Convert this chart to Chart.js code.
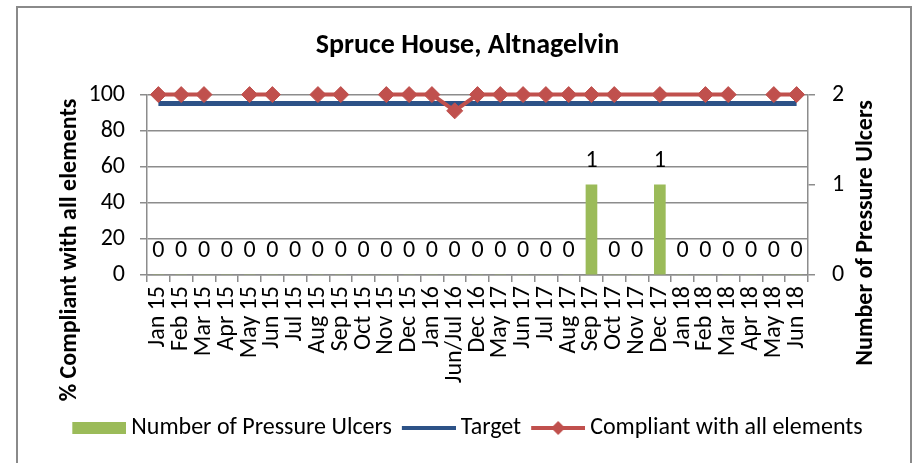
<!DOCTYPE html>
<html>
<head>
<meta charset="utf-8">
<script src="https://cdn.jsdelivr.net/npm/chart.js@4"></script>
<style>
  html, body { margin: 0; padding: 0; background: #fff; }
  #wrap { width: 914px; height: 463px; }
</style>
</head>
<body>
<div id="wrap"><canvas id="chart" width="914" height="463"></canvas></div>
<script>
const months = ['Jan 15', 'Feb 15', 'Mar 15', 'Apr 15', 'May 15', 'Jun 15', 'Jul 15', 'Aug 15',
  'Sep 15', 'Oct 15', 'Nov 15', 'Dec 15', 'Jan 16', 'Jun/Jul 16', 'Dec 16', 'May 17', 'Jun 17',
  'Jul 17', 'Aug 17', 'Sep 17', 'Oct 17', 'Nov 17', 'Dec 17', 'Jan 18', 'Feb 18', 'Mar 18',
  'Apr 18', 'May 18', 'Jun 18'];
const pressureUlcers = [0, 0, 0, 0, 0, 0, 0, 0, 0, 0, 0, 0, 0, 0, 0, 0, 0, 0, 0, 1, 0, 0, 1, 0, 0, 0, 0, 0, 0];
const target = [95, 95, 95, 95, 95, 95, 95, 95, 95, 95, 95, 95, 95, 95, 95, 95, 95, 95, 95, 95, 95, 95, 95, 95, 95, 95, 95, 95, 95];
const compliant = [100, 100, 100, null, 100, 100, null, 100, 100, null, 100, 100, 100, 91, 100,
  100, 100, 100, 100, 100, 100, 100, 100, 100, 100, 100, null, 100, 100];
const noMarker = [21, 23]; // line passes through these months without a diamond

const FONT = 'Carlito, Calibri, Lato, sans-serif';
const GREEN = '#9BBB59', BLUE = '#2D5287', RED = '#C0504D', GRID = '#8c8c8c';

// little legend swatches
function swatch(kind) {
  const c = document.createElement('canvas');
  c.width = 61; c.height = 16;
  const g = c.getContext('2d');
  if (kind === 'bar') {
    g.fillStyle = GREEN; g.fillRect(7, 2, 54, 12);
  } else {
    g.strokeStyle = kind === 'target' ? BLUE : RED;
    g.lineWidth = 4;
    g.beginPath(); g.moveTo(7, 8); g.lineTo(61, 8); g.stroke();
    if (kind === 'comp') {
      g.fillStyle = RED;
      g.beginPath(); g.moveTo(34 - 7, 8); g.lineTo(34, 1); g.lineTo(34 + 7, 8); g.lineTo(34, 15); g.closePath(); g.fill();
    }
  }
  return c;
}

const frame = {
  id: 'frame',
  beforeDraw(chart) {
    const c = chart.ctx;
    c.save();
    c.fillStyle = '#fff';
    c.fillRect(0, 0, chart.width, chart.height);
    c.strokeStyle = '#8a8a8a';
    c.lineWidth = 2;
    c.strokeRect(17, 7, 894, 470);
    c.restore();
  },
  afterDraw(chart) {
    // axis titles, both read bottom to top like the original
    const c = chart.ctx;
    c.save();
    c.font = 'bold 24px ' + FONT;
    c.fillStyle = '#000';
    c.textAlign = 'center';
    c.textBaseline = 'middle';
    [[70, 250, '% Compliant with all elements'], [866, 233, 'Number of Pressure Ulcers']].forEach(([x, y, t]) => {
      c.save();
      c.translate(x, y);
      c.rotate(-Math.PI / 2);
      c.fillText(t, 0, 0);
      c.restore();
    });
    c.restore();
  }
};

const barLabels = {
  id: 'barLabels',
  afterDatasetsDraw(chart) {
    const c = chart.ctx;
    const meta = chart.getDatasetMeta(0);
    c.save();
    c.font = '24px ' + FONT;
    c.fillStyle = '#000';
    c.textAlign = 'center';
    c.textBaseline = 'middle';
    meta.data.forEach((bar, i) => {
      c.fillText(String(pressureUlcers[i]), bar.x, bar.y - 24);
    });
    c.restore();
  }
};

new Chart(document.getElementById('chart'), {
  data: {
    labels: months,
    datasets: [
      {
        type: 'bar',
        label: 'Number of Pressure Ulcers',
        data: pressureUlcers,
        yAxisID: 'y1',
        backgroundColor: GREEN,
        barThickness: 11,
        order: 3
      },
      {
        type: 'line',
        label: 'Target',
        data: target,
        yAxisID: 'y',
        borderColor: BLUE,
        borderWidth: 5,
        pointRadius: 0,
        fill: false,
        order: 2
      },
      {
        type: 'line',
        label: 'Compliant with all elements',
        data: compliant,
        yAxisID: 'y',
        borderColor: RED,
        backgroundColor: RED,
        borderWidth: 4,
        pointStyle: 'rectRot',
        pointRadius: ctx => noMarker.includes(ctx.dataIndex) ? 0 : 8,
        pointBorderWidth: 1,
        spanGaps: false,
        fill: false,
        clip: false,
        order: 1
      }
    ]
  },
  options: {
    responsive: false,
    animation: false,
    layout: { padding: { left: 46, right: 25, top: 10, bottom: 13 } },
    plugins: {
      title: {
        display: true,
        text: 'Spruce House, Altnagelvin',
        color: '#000',
        font: { family: FONT, size: 28, weight: 'bold' },
        padding: { top: 19, bottom: 32 }
      },
      legend: {
        position: 'bottom',
        labels: {
          color: '#000',
          font: { family: FONT, size: 24 },
          usePointStyle: true,
          pointStyleWidth: 47,
          padding: 10,
          generateLabels() {
            return [
              { text: 'Number of Pressure Ulcers', pointStyle: swatch('bar'), fontColor: '#000', datasetIndex: 0 },
              { text: 'Target', pointStyle: swatch('target'), fontColor: '#000', datasetIndex: 1 },
              { text: 'Compliant with all elements', pointStyle: swatch('comp'), fontColor: '#000', datasetIndex: 2 }
            ];
          }
        }
      },
      tooltip: { enabled: false }
    },
    scales: {
      x: {
        afterFit(s) { s.height = 131; },
        grid: { offset: true, drawOnChartArea: false, drawTicks: true, tickLength: 7, color: GRID, lineWidth: 1.5 },
        border: { color: GRID, width: 1.5 },
        ticks: {
          color: '#000',
          font: { family: FONT, size: 24 },
          minRotation: 90,
          maxRotation: 90,
          autoSkip: false,
          padding: 4
        }
      },
      y: {
        position: 'left',
        min: 0,
        max: 100,
        afterFit(s) { s.width = 101; },
        grid: { color: GRID, lineWidth: 1.5, tickLength: 7 },
        border: { color: GRID, width: 1.5 },
        ticks: { stepSize: 20, color: '#000', font: { family: FONT, size: 24 }, padding: 15 }
      },
      y1: {
        position: 'right',
        min: 0,
        max: 2,
        afterFit(s) { s.width = 81; },
        grid: { drawOnChartArea: false, color: GRID, lineWidth: 1.5, tickLength: 7 },
        border: { color: GRID, width: 1.5 },
        ticks: { stepSize: 1, color: '#000', font: { family: FONT, size: 24 }, padding: 17 }
      }
    }
  },
  plugins: [frame, barLabels]
});
</script>
</body>
</html>
